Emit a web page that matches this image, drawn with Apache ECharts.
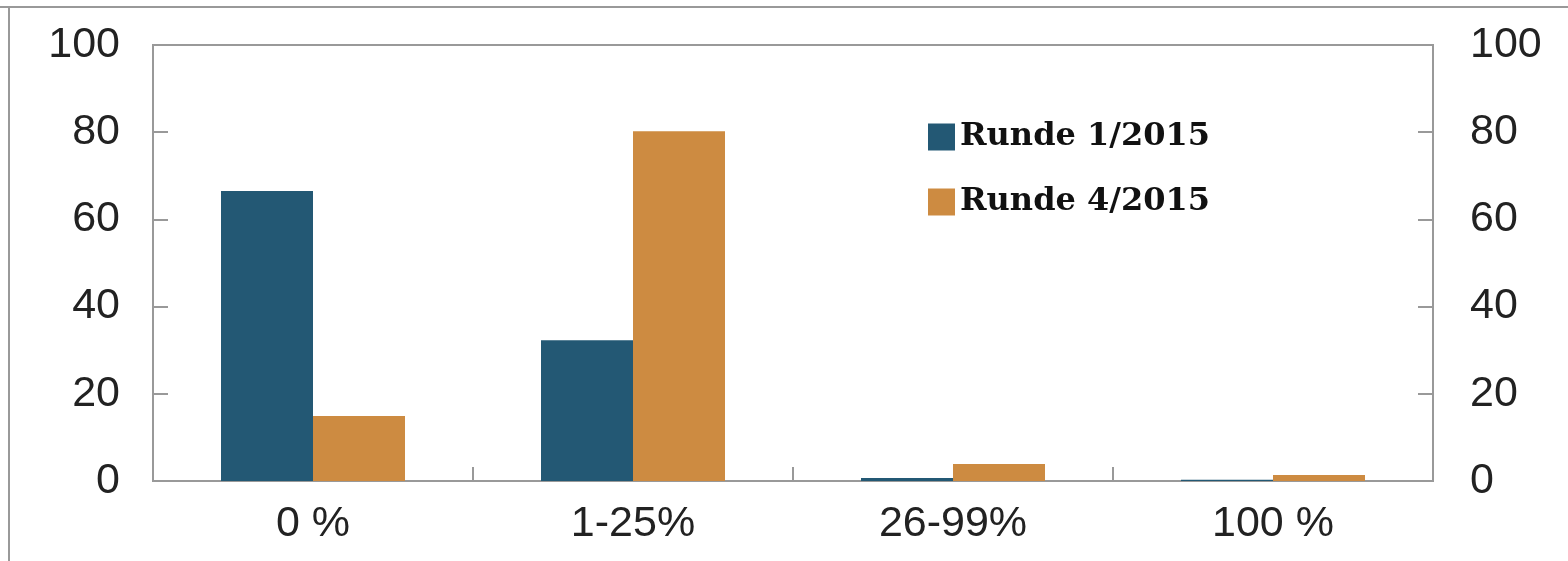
<!DOCTYPE html>
<html>
<head>
<meta charset="utf-8">
<script src="https://cdn.jsdelivr.net/npm/echarts@6/dist/echarts.min.js"></script>
<style>
  html, body { margin: 0; padding: 0; background: #fff; }
  #chart { width: 1568px; height: 561px; }
</style>
</head>
<body>
<div id="chart"></div>
<script>
// data
const categories = ['0 %', '1-25%', '26-99%', '100 %'];
const runde1 = [66.5, 32.3, 0.7, 0.3];
const runde4 = [14.9, 80.2, 3.9, 1.4];
const seriesNames = ['Runde 1/2015', 'Runde 4/2015'];

const axisColor = '#999';
const labelStyle = { color: '#222', fontFamily: 'Liberation Sans', fontSize: 43 };

const chart = echarts.init(document.getElementById('chart'));

function yAxis(position, margin) {
    return {
        type: 'value',
        position: position,
        min: 0,
        max: 100,
        interval: 20,
        splitLine: { show: false },
        axisLine: { show: true, lineStyle: { color: axisColor, width: 2 } },
        axisTick: { show: true, inside: true, length: 15, lineStyle: { color: axisColor, width: 2 } },
        axisLabel: Object.assign({ margin: margin }, labelStyle)
    };
}

chart.setOption({
    animation: false,
    grid: {
        left: 153,
        right: 135,
        top: 45,
        bottom: 80,
        show: true,
        borderColor: axisColor,
        borderWidth: 2
    },
    legend: {
        orient: 'vertical',
        left: 928,
        top: 121,
        padding: 0,
        itemWidth: 27,
        itemHeight: 27,
        itemGap: 33,
        icon: 'rect',
        textStyle: { color: '#111', fontFamily: 'DejaVu Serif', fontWeight: 'bold', fontSize: 32 },
        data: seriesNames
    },
    xAxis: {
        type: 'category',
        data: categories,
        axisLine: { lineStyle: { color: axisColor, width: 2 } },
        axisTick: { show: true, inside: true, length: 14, lineStyle: { color: axisColor, width: 2 } },
        axisLabel: Object.assign({ margin: 22 }, labelStyle)
    },
    yAxis: [yAxis('left', 33), yAxis('right', 37)],
    series: [
        {
            name: seriesNames[0],
            type: 'bar',
            data: runde1,
            barWidth: '28.75%',
            barGap: 0,
            itemStyle: { color: '#235874' }
        },
        {
            name: seriesNames[1],
            type: 'bar',
            data: runde4,
            barWidth: '28.75%',
            itemStyle: { color: '#CD8B41' }
        }
    ],
    // outer frame fragments
    graphic: [
        { type: 'line', shape: { x1: 0, y1: 7, x2: 1568, y2: 7 }, style: { stroke: axisColor, lineWidth: 2 } },
        { type: 'line', shape: { x1: 9, y1: 7, x2: 9, y2: 561 }, style: { stroke: axisColor, lineWidth: 2 } }
    ]
});
</script>
</body>
</html>
